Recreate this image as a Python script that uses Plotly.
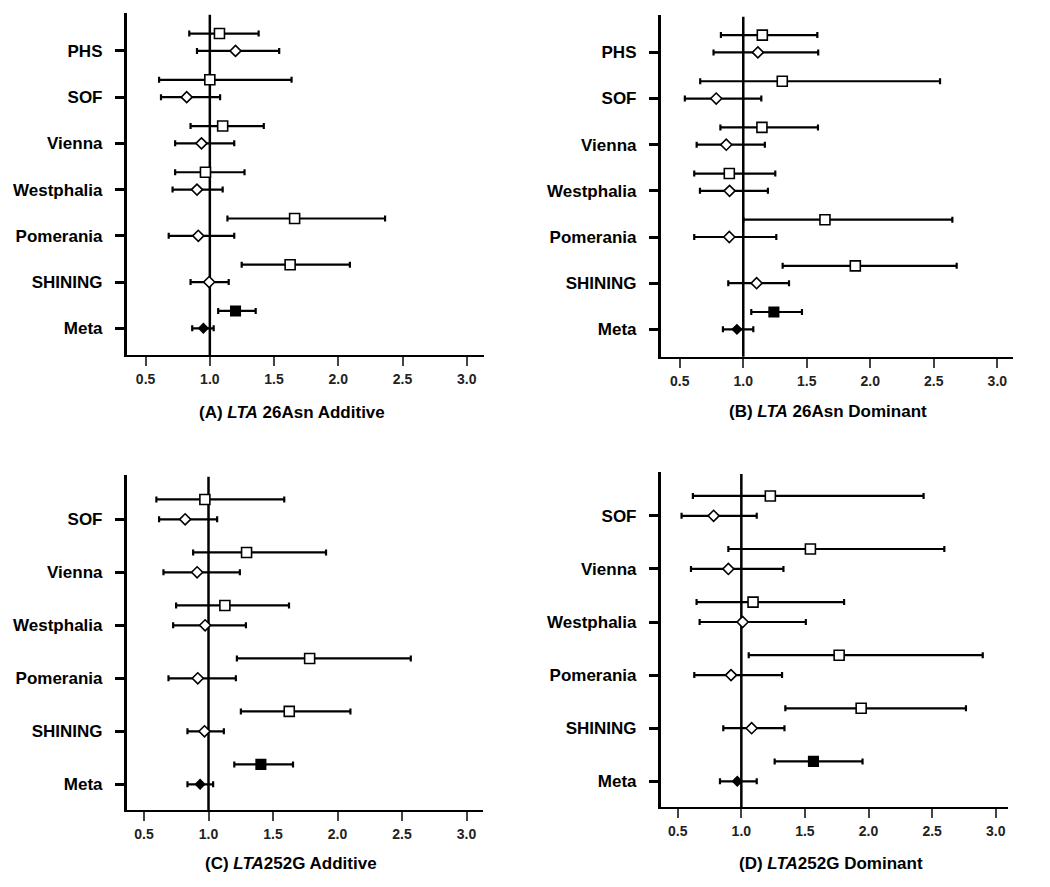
import plotly.graph_objects as go

# ---------------- data ----------------
cats_AB = ["PHS", "SOF", "Vienna", "Westphalia", "Pomerania", "SHINING", "Meta"]
cats_CD = ["SOF", "Vienna", "Westphalia", "Pomerania", "SHINING", "Meta"]

# (A) LTA 26Asn Additive  -- squares (upper) and diamonds (lower)
A_sq = [1.075, 1.00, 1.10, 0.966, 1.66, 1.625, 1.20]
A_sq_lo = [0.84, 0.605, 0.85, 0.73, 1.137, 1.248, 1.065]
A_sq_hi = [1.38, 1.636, 1.42, 1.27, 2.364, 2.09, 1.357]
A_di = [1.20, 0.82, 0.935, 0.90, 0.91, 0.995, 0.95]
A_di_lo = [0.90, 0.62, 0.73, 0.71, 0.68, 0.85, 0.863]
A_di_hi = [1.54, 1.08, 1.19, 1.10, 1.19, 1.147, 1.03]

# (B) LTA 26Asn Dominant
B_sq = [1.15, 1.307, 1.147, 0.89, 1.643, 1.882, 1.241]
B_sq_lo = [0.824, 0.661, 0.82, 0.614, 1.00, 1.31, 1.063]
B_sq_hi = [1.583, 2.549, 1.588, 1.252, 2.646, 2.68, 1.462]
B_di = [1.115, 0.787, 0.866, 0.892, 0.89, 1.105, 0.95]
B_di_lo = [0.766, 0.54, 0.633, 0.659, 0.614, 0.882, 0.84]
B_di_hi = [1.59, 1.142, 1.17, 1.194, 1.26, 1.36, 1.079]

# (C) LTA252G Additive
C_sq = [0.972, 1.295, 1.127, 1.784, 1.626, 1.406]
C_sq_lo = [0.596, 0.881, 0.749, 1.22, 1.251, 1.20]
C_sq_hi = [1.587, 1.911, 1.624, 2.568, 2.10, 1.655]
C_di = [0.819, 0.912, 0.974, 0.917, 0.969, 0.935]
C_di_lo = [0.617, 0.651, 0.726, 0.69, 0.837, 0.837]
C_di_hi = [1.067, 1.243, 1.29, 1.212, 1.119, 1.036]

# (D) LTA252G Dominant
D_sq = [1.228, 1.543, 1.092, 1.769, 1.942, 1.567]
D_sq_lo = [0.619, 0.898, 0.648, 1.058, 1.346, 1.262]
D_sq_hi = [2.433, 2.596, 1.808, 2.898, 2.766, 1.953]
D_di = [0.782, 0.898, 1.01, 0.919, 1.081, 0.968]
D_di_lo = [0.53, 0.604, 0.672, 0.63, 0.858, 0.832]
D_di_hi = [1.121, 1.331, 1.507, 1.32, 1.339, 1.121]

x_ticks = [0.5, 1.0, 1.5, 2.0, 2.5, 3.0]
x_ticktext = ["0.5", "1.0", "1.5", "2.0", "2.5", "3.0"]
titles = [
    "(A) <i>LTA</i> 26Asn Additive",
    "(B) <i>LTA</i> 26Asn Dominant",
    "(C) <i>LTA</i>252G Additive",
    "(D) <i>LTA</i>252G Dominant",
]

# ---------------- layout geometry (page pixels) ----------------
PAGE_OFF = 8          # default body margin of the html page
W, H = 1050 - PAGE_OFF, 887 - PAGE_OFF
FONT = "Liberation Sans, Arial, sans-serif"
SQ_OFFSET = 0.375


def fx(px):
    return (px - PAGE_OFF) / W


def fy(py):
    return 1 - (py - PAGE_OFF) / H


panels = [
    dict(cats=cats_AB, sq=(A_sq, A_sq_lo, A_sq_hi), di=(A_di, A_di_lo, A_di_hi),
         xpx=(126.7, 484), ypx=(13, 355), xr=(0.353, 3.134), yr=(-0.578, 6.82),
         tpos=(292, 412)),
    dict(cats=cats_AB, sq=(B_sq, B_sq_lo, B_sq_hi), di=(B_di, B_di_lo, B_di_hi),
         xpx=(660.7, 1012.7), ypx=(15, 356.7), xr=(0.35, 3.121), yr=(-0.593, 6.81),
         tpos=(828, 411)),
    dict(cats=cats_CD, sq=(C_sq, C_sq_lo, C_sq_hi), di=(C_di, C_di_lo, C_di_hi),
         xpx=(126.7, 483.3), ypx=(475, 810), xr=(0.366, 3.13), yr=(-0.485, 5.836),
         tpos=(291, 863)),
    dict(cats=cats_CD, sq=(D_sq, D_sq_lo, D_sq_hi), di=(D_di, D_di_lo, D_di_hi),
         xpx=(660.7, 1008.3), ypx=(472.3, 807.3), xr=(0.366, 3.099), yr=(-0.49, 5.82),
         tpos=(831, 863)),
]

fig = go.Figure()
layout = dict(
    width=W, height=H, margin=dict(l=0, r=0, t=0, b=0),
    paper_bgcolor="white", plot_bgcolor="rgba(0,0,0,0)",
    showlegend=False, font=dict(family=FONT, color="black"),
)
shapes = []
annotations = []

for i, p in enumerate(panels):
    k = "" if i == 0 else str(i + 1)
    xa, ya = "x" + k, "y" + k
    n = len(p["cats"])
    pos = [n - 1 - j for j in range(n)]
    is_meta = [c == "Meta" for c in p["cats"]]

    est, lo, hi = p["sq"]
    fig.add_trace(go.Scatter(
        x=est, y=[v + SQ_OFFSET for v in pos], mode="markers", xaxis=xa, yaxis=ya,
        marker=dict(symbol="square", opacity=1,
                    size=[9.5 if m else 10 for m in is_meta],
                    color=["black" if m else "white" for m in is_meta],
                    line=dict(color="black", width=1.6)),
        error_x=dict(type="data", symmetric=False,
                     array=[h - e for h, e in zip(hi, est)],
                     arrayminus=[e - l for e, l in zip(est, lo)],
                     color="black", thickness=2.2, width=3),
        hoverinfo="x+y",
    ))
    est, lo, hi = p["di"]
    fig.add_trace(go.Scatter(
        x=est, y=pos, mode="markers", xaxis=xa, yaxis=ya,
        marker=dict(symbol="diamond", opacity=1,
                    size=[7 if m else 8.5 for m in is_meta],
                    color=["black" if m else "white" for m in is_meta],
                    line=dict(color="black", width=1.6)),
        error_x=dict(type="data", symmetric=False,
                     array=[h - e for h, e in zip(hi, est)],
                     arrayminus=[e - l for e, l in zip(est, lo)],
                     color="black", thickness=2.2, width=3),
        hoverinfo="x+y",
    ))

    x0, x1 = p["xpx"]
    y0, y1 = p["ypx"]
    layout["xaxis" + k] = dict(
        domain=[fx(x0), fx(x1)], anchor=ya, range=list(p["xr"]),
        showline=True, linecolor="black", linewidth=2,
        showgrid=False, zeroline=False,
        ticks="outside", ticklen=9, tickwidth=1.5, tickcolor="#444",
        tickvals=x_ticks, ticktext=x_ticktext, ticklabelstandoff=1,
        tickfont=dict(family=FONT, size=14, color="#222", weight="bold"),
        fixedrange=True,
    )
    layout["yaxis" + k] = dict(
        domain=[fy(y1), fy(y0)], anchor=xa, range=list(p["yr"]),
        showline=True, linecolor="black", linewidth=2.6,
        showgrid=False, zeroline=False,
        ticks="outside", ticklen=9, tickwidth=2.5, tickcolor="black",
        tickvals=pos, ticktext=p["cats"], ticklabelstandoff=9,
        tickfont=dict(family=FONT, size=17, color="black", weight="bold"),
        fixedrange=True,
    )
    shapes.append(dict(
        type="line", xref=xa, yref=ya + " domain", x0=1.0, x1=1.0, y0=0, y1=0.995,
        line=dict(color="black", width=2.5), layer="below",
    ))
    tx, ty = p["tpos"]
    annotations.append(dict(
        text=titles[i], xref="paper", yref="paper", x=fx(tx), y=fy(ty),
        xanchor="center", yanchor="middle", showarrow=False,
        font=dict(family=FONT, size=17, color="black", weight="bold"),
    ))

layout["shapes"] = shapes
layout["annotations"] = annotations
fig.update_layout(**layout)
fig.write_html("out.html")
